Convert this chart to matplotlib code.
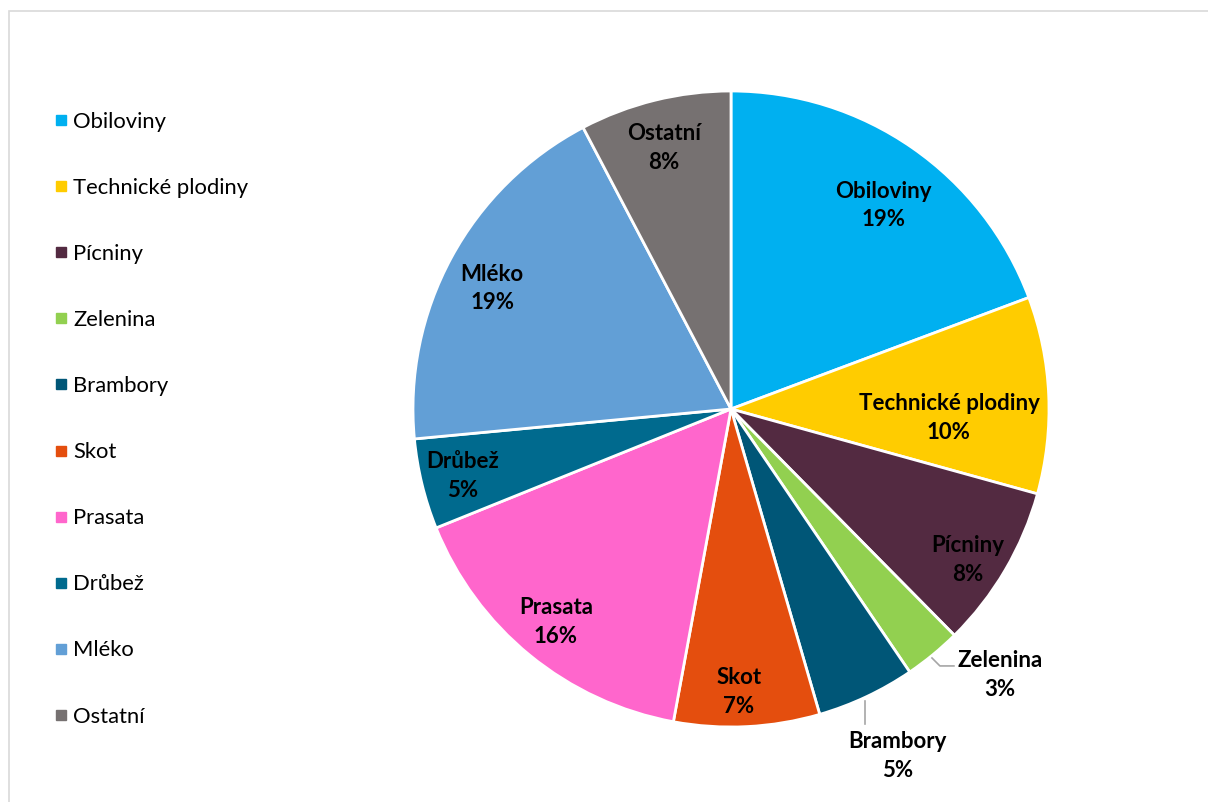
import numpy as np
import matplotlib.pyplot as plt
from matplotlib.lines import Line2D
from matplotlib.patches import Rectangle

plt.rcParams['font.family'] = ['Lato', 'DejaVu Sans']

categories = ['Obiloviny', 'Technické plodiny', 'Pícniny', 'Zelenina', 'Brambory',
              'Skot', 'Prasata', 'Drůbež', 'Mléko', 'Ostatní']
shares = [19.3, 10.0, 8.3, 2.9, 5.0, 7.4, 16.0, 4.6, 18.8, 7.7]
colors = ['#00B0F0', '#FFCC00', '#532A41', '#92D050', '#005677',
          '#E44E0E', '#FF66CC', '#006A8E', '#629FD6', '#767171']

# label placement (radius as fraction of pie radius, angle tweak in degrees)
lab_r = [0.80, 0.686, 0.884, 1.19, 1.21, 0.89, 0.867, 0.869, 0.841, 0.847]
lab_da = [-2.1, -4.9, -2.1, 5.9, 0.4, -1.3, -0.2, 0.4, 1.7, 0.5]

W, H = 1208, 802
fig = plt.figure(figsize=(W / 100, H / 100), dpi=100)

# light frame like the source chart area
fig.patches.append(Rectangle((9 / W, -0.1), 1.2, (H - 11) / H + 0.1, transform=fig.transFigure,
                             fill=False, edgecolor='#D9D9D9', linewidth=1.2))

cx, cy, R = 731, 409, 318
ax = fig.add_axes([(cx - R) / W, (H - cy - R) / H, 2 * R / W, 2 * R / H])
wedges, _ = ax.pie(shares, colors=colors, startangle=90, counterclock=False, radius=1,
                   wedgeprops=dict(edgecolor='white', linewidth=2.0))
ax.set_xlim(-1, 1)
ax.set_ylim(-1, 1)
ax.set_aspect('equal')
ax.axis('off')

for w, name, val, r, da in zip(wedges, categories, shares, lab_r, lab_da):
    ang = np.deg2rad((w.theta1 + w.theta2) / 2 + da)
    x, y = r * np.cos(ang), r * np.sin(ang)
    ax.text(x, y, f'{name}\n{val:.0f}%', ha='center', va='center', fontsize=16,
            fontweight='bold', linespacing=1.45, color='black', clip_on=False)

# leader lines for the two small outside labels
ax.plot([0.632, 0.657, 0.701], [-0.783, -0.808, -0.808], color='#A6A6A6', lw=1.2, clip_on=False)
ax.plot([0.421, 0.421], [-0.918, -0.99], color='#A6A6A6', lw=1.2, clip_on=False)

handles = [Line2D([], [], marker='s', linestyle='none', markersize=6.5, markerfacecolor=c,
                  markeredgecolor=c) for c in colors]
fig.legend(handles, categories, loc='upper left', bbox_to_anchor=(46 / W, 1 - 103 / H),
           frameon=False, fontsize=15.8, labelspacing=2.1, handlelength=0.55,
           handletextpad=0.3, borderaxespad=0)

fig.savefig('out.png', dpi=100)
